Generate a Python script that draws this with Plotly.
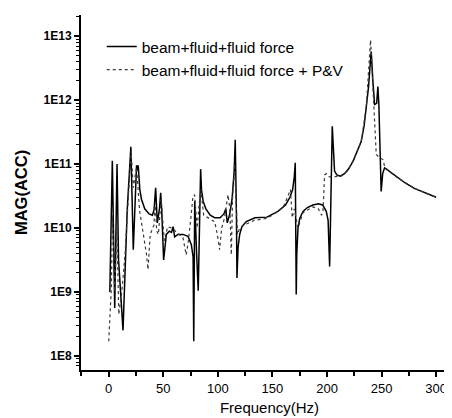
import plotly.graph_objects as go

# Series 1: beam+fluid+fluid force  (frequency Hz, log10 of magnitude)
freq_solid = [1, 3.3, 5.5, 7.6, 9, 11, 13.1, 17, 20.3, 22.5, 24, 25.5, 26.5, 27, 28.5, 30, 33, 37,
              40, 41.5, 43, 44.5, 46.5, 47.6, 48.5, 50.3, 52.8, 55.5, 57.5, 59, 60.4, 63.4, 68,
              72.6, 75.7, 77.3, 77.9, 78.8, 80.5, 82, 84.2, 85, 86.5, 89, 93, 97, 102, 105.5,
              107.3, 108.6, 110.8, 113, 115, 115.9, 117.0, 117.5, 118.5, 120, 122, 126, 134, 145,
              155, 162, 166, 168.5, 170, 170.9, 171.8, 172.3, 173.4, 175, 178, 182, 187, 192, 196,
              199.3, 201, 202.4, 204.8, 206.9, 209, 212, 216, 220, 224, 228, 231.3, 234, 236, 238,
              239.5, 240.5, 242, 243.6, 245.5, 246.6, 247.5, 249.6, 251, 252.7, 256, 260, 265,
              272, 280, 290, 300]
logmag_solid = [9.0, 11.05, 8.75, 11.0, 9.5, 9.0, 8.4, 10.3, 11.27, 9.66, 10.5, 10.98, 10.9,
                10.98, 10.6, 10.45, 10.3, 10.22, 10.2, 10.28, 10.63, 10.08, 10.3, 10.55, 10.3,
                9.5, 9.9, 9.95, 9.93, 10.02, 9.86, 9.9, 9.9, 9.87, 9.74, 9.55, 8.23, 10.42, 9.6,
                9.02, 10.92, 10.6, 10.42, 10.3, 10.2, 10.16, 10.16, 10.22, 10.3, 10.08, 10.21,
                10.45, 10.9, 11.38, 10.2, 9.22, 9.7, 9.9, 10.02, 10.1, 10.16, 10.17, 10.26, 10.36,
                10.48, 10.6, 10.8, 11.02, 8.96, 9.6, 10.0, 10.15, 10.26, 10.32, 10.36, 10.38,
                10.36, 10.26, 10.12, 9.40, 11.59, 10.89, 10.83, 10.81, 10.85, 10.93, 11.05, 11.2,
                11.35, 11.6, 11.875, 12.2, 12.55, 12.76, 12.3, 11.93, 11.95, 12.21, 11.93, 10.57,
                10.85, 10.94, 10.9, 10.85, 10.78, 10.7, 10.62, 10.55, 10.48]

# Series 2: beam+fluid+fluid force + P&V
freq_dot = [0, 2.4, 3.5, 5.5, 7.5, 9.2, 12, 15, 18, 20.5, 22.5, 25.5, 28.3, 32, 34.5, 36, 38, 41.5,
            42.5, 44, 45.5, 48, 49.5, 51, 54, 58, 63, 68, 71, 73, 75.5, 77.2, 78.7, 81, 83, 84.5,
            87, 91, 97, 99.5, 101.6, 103.5, 106, 109.3, 111, 112.3, 113.5, 115.2, 116.5, 118,
            119.9, 124.5, 133.7, 145, 155, 160, 164.2, 166.5, 168.1, 170, 173.4, 178, 187, 192,
            195, 196.3, 197.8, 199.5, 202, 206, 213, 218, 223, 231.3, 235.9, 239.9, 241.5, 243.6,
            245.1, 248, 251.2, 253, 258, 264.9, 272, 280.2, 290, 300]
logmag_dot = [8.23, 9.06, 10.2, 9.0, 10.0, 8.65, 9.0, 9.6, 10.5, 11.2, 10.63, 10.95, 10.27, 9.9,
              9.6, 9.35, 9.9, 10.05, 10.4, 9.95, 9.9, 10.45, 10.1, 9.8, 10.02, 10.0, 9.92, 9.85,
              9.58, 9.8, 10.2, 10.5, 10.52, 10.0, 10.4, 10.6, 10.2, 10.16, 10.1, 9.9, 9.66, 10.0,
              10.15, 10.52, 10.3, 9.58, 10.5, 11.0, 10.5, 9.9, 10.0, 10.05, 10.12, 10.15, 10.26,
              10.33, 10.5, 10.6, 10.16, 10.3, 10.0, 10.24, 10.33, 10.3, 10.2, 10.26, 10.83, 10.85,
              10.8, 10.8, 10.81, 10.88, 11.02, 11.35, 11.875, 12.94, 12.4, 11.875, 11.15, 11.1,
              11.07, 10.95, 10.87, 10.78, 10.7, 10.62, 10.55, 10.48]

y_tickvals = [1e8, 1e9, 1e10, 1e11, 1e12, 1e13]
y_ticktext = ["1E8", "1E9", "1E10", "1E11", "1E12", "1E13"]
x_tickvals = [0, 50, 100, 150, 200, 250, 300]
x_minor = [-25, 25, 75, 125, 175, 225, 275, 325]

y_minor = [m * 10 ** e for e in range(7, 14) for m in range(2, 10)]

mag_solid = [10 ** v for v in logmag_solid]
mag_dot = [10 ** v for v in logmag_dot]

fig = go.Figure()
fig.add_trace(go.Scatter(x=freq_solid, y=mag_solid, mode="lines",
                         name="beam+fluid+fluid force",
                         line=dict(color="black", width=1.5)))
fig.add_trace(go.Scatter(x=freq_dot, y=mag_dot, mode="lines",
                         name="beam+fluid+fluid force + P&V",
                         line=dict(color="#3a3a3a", width=1.2, dash="dot")))

font_main = "Liberation Sans, Arial, sans-serif"
fig.update_layout(
    width=452, height=418,
    margin=dict(l=73, r=2, t=7, b=56),
    paper_bgcolor="white", plot_bgcolor="white",
    font=dict(family=font_main, color="black", size=12),
    showlegend=True,
    legend=dict(x=0.055, y=0.958, xanchor="left", yanchor="top",
                bgcolor="rgba(0,0,0,0)", font=dict(size=15.5, family=font_main),
                tracegroupgap=0, itemwidth=30),
    xaxis=dict(range=[-25.4, 320], showgrid=False, zeroline=False,
               showline=True, linecolor="black", linewidth=2,
               ticks="outside", ticklen=5, tickwidth=1.5, tickcolor="black",
               tickmode="array", tickvals=x_tickvals,
               tickfont=dict(size=13, family=font_main),
               minor=dict(tickmode="array", tickvals=x_minor, ticks="outside",
                          ticklen=4, tickwidth=1.5, tickcolor="black"),
               title=dict(text="Frequency(Hz)", font=dict(size=15, family=font_main), standoff=8)),
    yaxis=dict(type="log", range=[7.78, 13.33], showgrid=False, zeroline=False,
               showline=True, linecolor="black", linewidth=2,
               ticks="outside", ticklen=5, tickwidth=1.5, tickcolor="black",
               tickmode="array", tickvals=y_tickvals, ticktext=["<b>%s</b>" % t for t in y_ticktext],
               tickfont=dict(size=12, family=font_main),
               minor=dict(tickmode="array", tickvals=y_minor, ticks="outside",
                          ticklen=3, tickwidth=1, tickcolor="black"),
               title=dict(text="<b>MAG(ACC)</b>", font=dict(size=16.5, family=font_main), standoff=12)),
)

fig.write_html("out.html")
